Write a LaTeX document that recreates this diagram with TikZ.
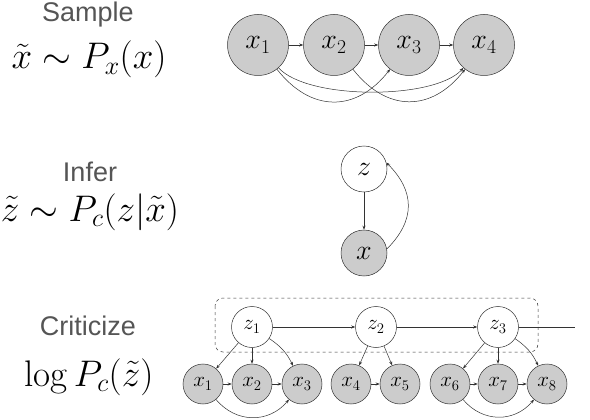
\RequirePackage{fix-cm}
\documentclass[tikz,border=0pt]{standalone}
\usepackage{fontspec}
\newfontfamily\labfont{Liberation Sans}
\usetikzlibrary{arrows.meta}
\definecolor{labgray}{HTML}{555555}
\definecolor{edge}{HTML}{333333}
\definecolor{obsfill}{HTML}{CCCCCC}
\begin{document}
\begin{tikzpicture}[x=1pt,y=-1pt,
  lab/.style={anchor=base,text=labgray,font=\labfont\fontsize{27}{30}\selectfont,inner sep=0pt},
  eq/.style={anchor=base,font=\fontsize{37}{40}\selectfont,inner sep=0pt},
  obs/.style={circle,draw=edge,fill=obsfill,line width=0.5pt,inner sep=0pt,minimum size=#1},
  lat/.style={circle,draw=edge,fill=white,line width=0.5pt,inner sep=0pt,minimum size=#1},
  big/.style={font=\fontsize{28}{30}\selectfont},
  small/.style={font=\fontsize{21}{24}\selectfont},
  arr/.style={-{Stealth[length=4pt,width=3pt]},draw=edge,line width=0.5pt},
  plain/.style={draw=edge,line width=0.5pt},
  plate/.style={draw=edge,dashed,rounded corners=8pt,line width=0.5pt}
]
\useasboundingbox (0,0) rectangle (590,420);

% labels
\node[lab] (l1) at (88,22) {Sample};
\node[eq] (e1) at (89,69) {$\tilde x \sim P_x(x)$};
\node[lab] (l2) at (90,182) {Infer};
\node[eq] (e2) at (90,221) {$\tilde z \sim P_c(z|\tilde x)$};
\node[lab] (l3) at (88,335) {Criticize};
\node[eq] (e3) at (89,386) {$\log P_c(\tilde z)$};

% top row
\node[obs=61pt,big] (t1) at (258,45) {$x_1$};
\node[obs=61pt,big] (t2) at (334,45) {$x_2$};
\node[obs=61pt,big] (t3) at (409,45) {$x_3$};
\node[obs=61pt,big] (t4) at (484,45) {$x_4$};
\draw[arr] (t1) -- (t2);
\draw[arr] (t2) -- (t3);
\draw[arr] (t3) -- (t4);
\draw[arr] (t1) to[out=-52,in=-128,looseness=1.25] (t3);
\draw[arr] (t1) to[out=-48,in=-132,looseness=0.6] (t4);
\draw[arr] (t2) to[out=-52,in=-128,looseness=1.25] (t4);

% middle
\node[lat=46pt,big] (mz) at (364,169) {$z$};
\node[obs=46pt,big] (mx) at (364,253) {$x$};
\draw[arr] (mz) -- (mx);
\draw[arr] (mx.10) to[out=45,in=-45,looseness=1.2] (mz.16);

% bottom
\draw[plate] (215,298) rectangle (538,352);
\node[lat=41pt,small] (z1) at (252,327) {$z_1$};
\node[lat=41pt,small] (z2) at (376,327) {$z_2$};
\node[lat=41pt,small] (z3) at (498,327) {$z_3$};
\coordinate (zend) at (575,327);
\node[obs=40pt,small] (b1) at (203,384) {$x_1$};
\node[obs=40pt,small] (b2) at (252,384) {$x_2$};
\node[obs=40pt,small] (b3) at (302,384) {$x_3$};
\node[obs=40pt,small] (b4) at (351,384) {$x_4$};
\node[obs=40pt,small] (b5) at (400,384) {$x_5$};
\node[obs=40pt,small] (b6) at (450,384) {$x_6$};
\node[obs=40pt,small] (b7) at (498,384) {$x_7$};
\node[obs=40pt,small] (b8) at (547,384) {$x_8$};
\draw[arr] (z1) -- (z2);
\draw[arr] (z2) -- (z3);
\draw[plain] (z3) -- (zend);
\draw[arr] (z1) -- (b1);
\draw[arr] (z1) -- (b2);
\draw[arr] (z1) to[bend left=15] (b3);
\draw[arr] (z2) -- (b4);
\draw[arr] (z2) -- (b5);
\draw[arr] (z3) -- (b6);
\draw[arr] (z3) -- (b7);
\draw[arr] (z3) to[bend left=15] (b8);
\draw[arr] (b1) -- (b2);
\draw[arr] (b2) -- (b3);
\draw[arr] (b4) -- (b5);
\draw[arr] (b6) -- (b7);
\draw[arr] (b7) -- (b8);
\draw[arr] (b1) to[out=-50,in=-130,looseness=1.1] (b3);
\draw[arr] (b6) to[out=-50,in=-130,looseness=1.1] (b8);
\end{tikzpicture}
\end{document}
